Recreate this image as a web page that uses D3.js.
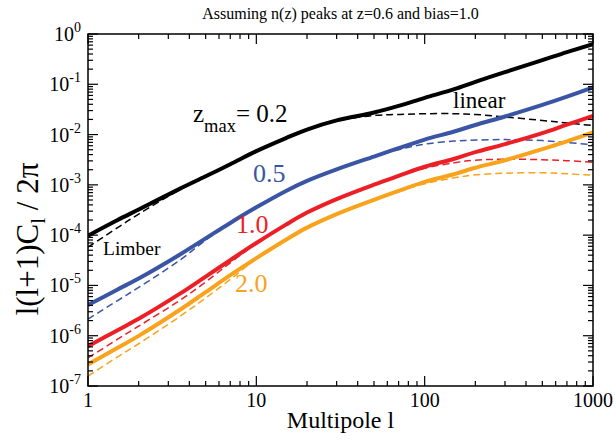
<!DOCTYPE html>
<html>
<head>
<meta charset="utf-8">
<script src="https://cdn.jsdelivr.net/npm/d3@7"></script>
<style>
  html, body { margin: 0; padding: 0; background: #fff; }
  svg { display: block; }
</style>
</head>
<body>
<svg id="chart" width="616" height="441" font-family="Liberation Serif, Times New Roman, serif"></svg>
<script>
// Multipoles sampled for every curve
const ells = [1, 1.5, 2, 3.5, 5, 7, 10, 15, 20, 30, 50, 70, 100, 150, 200, 300, 500, 700, 1000];

// Full calculation (solid) for each z_max
const full02 = [9.77e-5, 2.0e-4, 3.24e-4, 8.32e-4, 1.48e-3, 2.57e-3, 4.68e-3, 8.51e-3, 0.0126, 0.0191, 0.0275, 0.0372, 0.0537, 0.08, 0.112, 0.174, 0.302, 0.437, 0.631];
const full05 = [4.07e-6, 8.32e-6, 1.37e-5, 4.08e-5, 8.63e-5, 1.75e-4, 3.57e-4, 7.57e-4, 1.20e-3, 2.03e-3, 3.66e-3, 5.37e-3, 7.94e-3, 0.0115, 0.0155, 0.0229, 0.0389, 0.0569, 0.0871];
const full10 = [6.17e-7, 1.29e-6, 2.17e-6, 6.78e-6, 1.50e-5, 3.18e-5, 6.97e-5, 1.62e-4, 2.81e-4, 5.22e-4, 1.01e-3, 1.51e-3, 2.29e-3, 3.3e-3, 4.47e-3, 6.46e-3, 0.0107, 0.0157, 0.0234];
const full20 = [2.69e-7, 5.75e-7, 9.93e-7, 3.24e-6, 7.35e-6, 1.60e-5, 3.49e-5, 8.11e-5, 1.41e-4, 2.62e-4, 5.05e-4, 7.59e-4, 1.15e-3, 1.63e-3, 2.19e-3, 3.09e-3, 5.13e-3, 7.33e-3, 0.011];

// Limber (low l) / linear (high l) approximation, dashed, for each z_max
const approx02 = [5.75e-5, 1.41e-4, 2.63e-4, 7.94e-4, 1.45e-3, 2.57e-3, 4.68e-3, 8.51e-3, 0.0126, 0.0186, 0.024, 0.0251, 0.026, 0.026, 0.0251, 0.0224, 0.0191, 0.017, 0.0151];
const approx05 = [2.14e-6, 5.01e-6, 9.12e-6, 3.16e-5, 7.94e-5, 1.72e-4, 3.55e-4, 7.5e-4, 1.19e-3, 2.02e-3, 3.6e-3, 5.01e-3, 6.46e-3, 7.41e-3, 7.76e-3, 7.94e-3, 7.59e-3, 6.92e-3, 6.31e-3];
const approx10 = [3.63e-7, 8.51e-7, 1.55e-6, 5.01e-6, 1.17e-5, 2.82e-5, 6.8e-5, 1.6e-4, 2.78e-4, 5.15e-4, 1.0e-3, 1.5e-3, 2.14e-3, 2.75e-3, 3.09e-3, 3.24e-3, 3.16e-3, 3.02e-3, 2.82e-3];
const approx20 = [1.58e-7, 3.8e-7, 6.92e-7, 2.4e-6, 5.62e-6, 1.32e-5, 3.4e-5, 8.0e-5, 1.39e-4, 2.58e-4, 4.98e-4, 7.5e-4, 1.05e-3, 1.38e-3, 1.58e-3, 1.70e-3, 1.74e-3, 1.66e-3, 1.55e-3];

const zmaxLabels = ["0.2", "0.5", "1.0", "2.0"];
const seriesColors = ["#000000", "#3a55a4", "#ec1f26", "#f8a31b"];

const xTicks = [1, 10, 100, 1000];
const xTickLabels = ["1", "10", "100", "1000"];
const yTicks = [1, 1e-1, 1e-2, 1e-3, 1e-4, 1e-5, 1e-6, 1e-7];
const yTickExponents = ["0", "-1", "-2", "-3", "-4", "-5", "-6", "-7"];

const svg = d3.select("#chart");
const pL = 88, pR = 593, pT = 34, pB = 386;
const x = d3.scaleLog().domain([1, 1000]).range([pL, pR]);
const y = d3.scaleLog().domain([1e-7, 1]).range([pB, pT]);

// minor tick positions
const xMinor = [];
for (let d = 1; d < 1000; d *= 10) for (let k = 2; k <= 9; k++) xMinor.push(d * k);
const yMinor = [];
for (let e = -7; e < 0; e++) for (let k = 2; k <= 9; k++) yMinor.push(k * Math.pow(10, e));

// curves
const line = d3.line().x((d, i) => x(ells[i])).y(d => y(d)).curve(d3.curveCatmullRom.alpha(0.5));
svg.append("clipPath").attr("id", "plotclip")
  .append("rect").attr("x", pL).attr("y", pT).attr("width", pR - pL).attr("height", pB - pT);
const plot = svg.append("g").attr("clip-path", "url(#plotclip)");

const approxSets = [approx02, approx05, approx10, approx20];
const fullSets = [full02, full05, full10, full20];
approxSets.forEach((s, i) => {
  plot.append("path").datum(s).attr("d", line)
    .attr("fill", "none").attr("stroke", seriesColors[i])
    .attr("stroke-width", 1.5).attr("stroke-dasharray", "7,4");
});
fullSets.forEach((s, i) => {
  plot.append("path").datum(s).attr("d", line)
    .attr("fill", "none").attr("stroke", seriesColors[i])
    .attr("stroke-width", 4).attr("stroke-linejoin", "round");
});

// axes: ticks point inward on all four sides
const axG = svg.append("g").attr("stroke", "#000").attr("fill", "none");
function tickSet(vals, len, horizontal) {
  vals.forEach(v => {
    if (horizontal) {
      const px = x(v);
      axG.append("line").attr("x1", px).attr("x2", px).attr("y1", pB).attr("y2", pB - len).attr("stroke-width", 1.2);
      axG.append("line").attr("x1", px).attr("x2", px).attr("y1", pT).attr("y2", pT + len).attr("stroke-width", 1.2);
    } else {
      const py = y(v);
      axG.append("line").attr("x1", pL).attr("x2", pL + len).attr("y1", py).attr("y2", py).attr("stroke-width", 1.2);
      axG.append("line").attr("x1", pR).attr("x2", pR - len).attr("y1", py).attr("y2", py).attr("stroke-width", 1.2);
    }
  });
}
tickSet(xTicks, 10, true);
tickSet(xMinor, 5, true);
tickSet(yTicks, 10, false);
tickSet(yMinor, 5, false);
axG.append("rect").attr("x", pL).attr("y", pT).attr("width", pR - pL).attr("height", pB - pT)
  .attr("stroke-width", 1.5);

// tick labels
xTicks.forEach((v, i) => {
  svg.append("text").attr("x", x(v)).attr("y", pB + 21)
    .attr("text-anchor", "middle").attr("font-size", 20).text(xTickLabels[i]);
});
yTicks.forEach((v, i) => {
  const t = svg.append("text").attr("x", pL - 7).attr("y", y(v) + 7)
    .attr("text-anchor", "end").attr("font-size", 20);
  t.append("tspan").text("10");
  t.append("tspan").attr("dy", -9).attr("font-size", 14).text(yTickExponents[i]);
});

// titles
svg.append("text").attr("x", (pL + pR) / 2).attr("y", 19)
  .attr("text-anchor", "middle").attr("font-size", 16).text("Assuming n(z) peaks at z=0.6 and bias=1.0");
svg.append("text").attr("x", (pL + pR) / 2).attr("y", 428)
  .attr("text-anchor", "middle").attr("font-size", 24).text("Multipole l");
const yt = svg.append("text").attr("transform", `translate(38, 239) rotate(-90)`)
  .attr("text-anchor", "middle").attr("font-size", 31);
yt.append("tspan").text("l(l+1)C");
yt.append("tspan").attr("dy", 7).attr("font-size", 21).text("l");
yt.append("tspan").attr("dy", -7).text(" / 2\u03c0");

// annotations
const zl = svg.append("text").attr("x", 193).attr("y", 122).attr("font-size", 25).attr("fill", seriesColors[0]);
zl.append("tspan").text("z");
zl.append("tspan").attr("dy", 10).attr("font-size", 18.5).text("max");
zl.append("tspan").attr("dy", -10).text("= " + zmaxLabels[0]);
svg.append("text").attr("x", 253).attr("y", 182).attr("font-size", 26).attr("fill", seriesColors[1]).text(zmaxLabels[1]);
svg.append("text").attr("x", 236).attr("y", 233).attr("font-size", 26).attr("fill", seriesColors[2]).text(zmaxLabels[2]);
svg.append("text").attr("x", 235).attr("y", 292).attr("font-size", 26).attr("fill", seriesColors[3]).text(zmaxLabels[3]);
svg.append("text").attr("x", 453).attr("y", 108).attr("font-size", 23).text("linear");
svg.append("text").attr("x", 103).attr("y", 255).attr("font-size", 19.5).text("Limber");
</script>
</body>
</html>
